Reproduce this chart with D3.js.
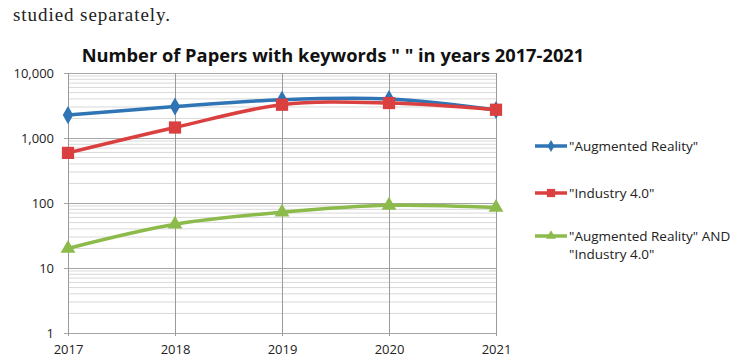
<!DOCTYPE html>
<html>
<head>
<meta charset="utf-8">
<script src="https://cdn.jsdelivr.net/npm/d3@7"></script>
<style>
  body { margin: 0; background: #fff; }
  svg { display: block; }
</style>
</head>
<body>
<div id="container"></div>
<script>
/* DATA */
const years = [2017, 2018, 2019, 2020, 2021];
const arPapers = [2250, 3050, 3880, 3980, 2700];
const industryPapers = [590, 1450, 3250, 3450, 2720];
const bothPapers = [20, 47, 72, 92, 85];
const yTicks = [1, 10, 100, 1000, 10000];
const seriesNames = ['"Augmented Reality"', '"Industry 4.0"', ['"Augmented Reality" AND', '"Industry 4.0"']];

const width = 736;
const height = 359;

const series = [
  { name: seriesNames[0], values: arPapers, color: "#2f74b5", shape: d3.symbolDiamond, size: 95 },
  { name: seriesNames[1], values: industryPapers, color: "#d9403f", shape: d3.symbolSquare, size: 150 },
  { name: seriesNames[2], values: bothPapers, color: "#8cbb4c", shape: d3.symbolTriangle, size: 95 }
];

/* SCALES */
const xScale = d3.scalePoint()
  .domain(years)
  .range([68, 496]);

const yScale = d3.scaleLog()
  .domain([1, 10000])
  .range([333, 73]);

const svg = d3.select("#container")
  .append("svg")
  .attr("width", width)
  .attr("height", height);

// paragraph text above the figure
svg.append("text")
  .attr("x", 13)
  .attr("y", 21)
  .attr("font-family", "Liberation Serif, serif")
  .attr("font-size", 19)
  .attr("fill", "#222")
  .attr("textLength", 157)
  .text("studied separately.");

// title
svg.append("text")
  .attr("x", 333)
  .attr("y", 62)
  .attr("text-anchor", "middle")
  .attr("font-family", "Open Sans, sans-serif")
  .attr("font-weight", "bold")
  .attr("font-size", 18.3)
  .attr("fill", "#111")
  .text('Number of Papers with keywords " " in years 2017-2021');

// minor gridlines
const minor = [];
for (let k = 0; k < 4; k++) {
  for (let m = 2; m <= 9; m++) minor.push(m * Math.pow(10, k));
}
svg.append("g")
  .selectAll("line")
  .data(minor)
  .join("line")
  .attr("x1", xScale(2017))
  .attr("x2", xScale(2021))
  .attr("y1", d => yScale(d))
  .attr("y2", d => yScale(d))
  .attr("stroke", "#d9d9d9")
  .attr("stroke-width", 1);

// major gridlines via axis
const yAxis = svg.append("g")
  .attr("transform", `translate(${xScale(2017)},0)`)
  .call(d3.axisLeft(yScale)
    .tickValues(yTicks)
    .tickSize(-(xScale(2021) - xScale(2017)))
    .tickPadding(14)
    .tickFormat(d3.format(",")));
yAxis.select(".domain").remove();
yAxis.selectAll(".tick line")
  .attr("x1", -4)
  .attr("stroke", "#a6a6a6");
yAxis.selectAll("text")
  .attr("font-family", "Open Sans, sans-serif")
  .attr("font-size", 13)
  .attr("fill", "#222");

// vertical gridlines + x labels
const xAxis = svg.append("g")
  .attr("transform", `translate(0,${yScale(1)})`)
  .call(d3.axisBottom(xScale)
    .tickSize(-(yScale(1) - yScale(10000)))
    .tickPadding(12));
xAxis.select(".domain").remove();
xAxis.selectAll(".tick line")
  .attr("y1", 3)
  .attr("stroke", "#9a9a9a");
xAxis.selectAll("text")
  .attr("font-family", "Open Sans, sans-serif")
  .attr("font-size", 13)
  .attr("fill", "#222");

// lines
const line = d3.line()
  .x((d, i) => xScale(years[i]))
  .y(d => yScale(d))
  .curve(d3.curveCatmullRom.alpha(0.5));

const groups = svg.selectAll("g.series")
  .data(series)
  .join("g")
  .attr("class", "series");

groups.append("path")
  .attr("d", d => line(d.values))
  .attr("fill", "none")
  .attr("stroke", d => d.color)
  .attr("stroke-width", 3.5);

groups.each(function(s) {
  d3.select(this).selectAll("path.marker")
    .data(s.values)
    .join("path")
    .attr("class", "marker")
    .attr("transform", (d, i) => `translate(${xScale(years[i])},${yScale(d)})`)
    .attr("d", d3.symbol().type(s.shape).size(s.size))
    .attr("fill", s.color);
});

// legend
const legendY = [146, 193, 236];
const legend = svg.selectAll("g.legend")
  .data(series)
  .join("g")
  .attr("class", "legend")
  .attr("transform", (d, i) => `translate(535,${legendY[i]})`);

legend.append("line")
  .attr("x1", 0)
  .attr("x2", 32)
  .attr("stroke", d => d.color)
  .attr("stroke-width", 3.5);

legend.append("path")
  .attr("transform", "translate(16,0)")
  .attr("d", d => d3.symbol().type(d.shape).size(d.size * 0.45)())
  .attr("fill", d => d.color);

legend.selectAll("text")
  .data(d => Array.isArray(d.name) ? d.name : [d.name])
  .join("text")
  .attr("x", 34)
  .attr("y", (d, i) => 5 + i * 18)
  .attr("font-family", "Open Sans, sans-serif")
  .attr("font-size", 13.5)
  .attr("fill", "#222")
  .text(d => d);
</script>
</body>
</html>
